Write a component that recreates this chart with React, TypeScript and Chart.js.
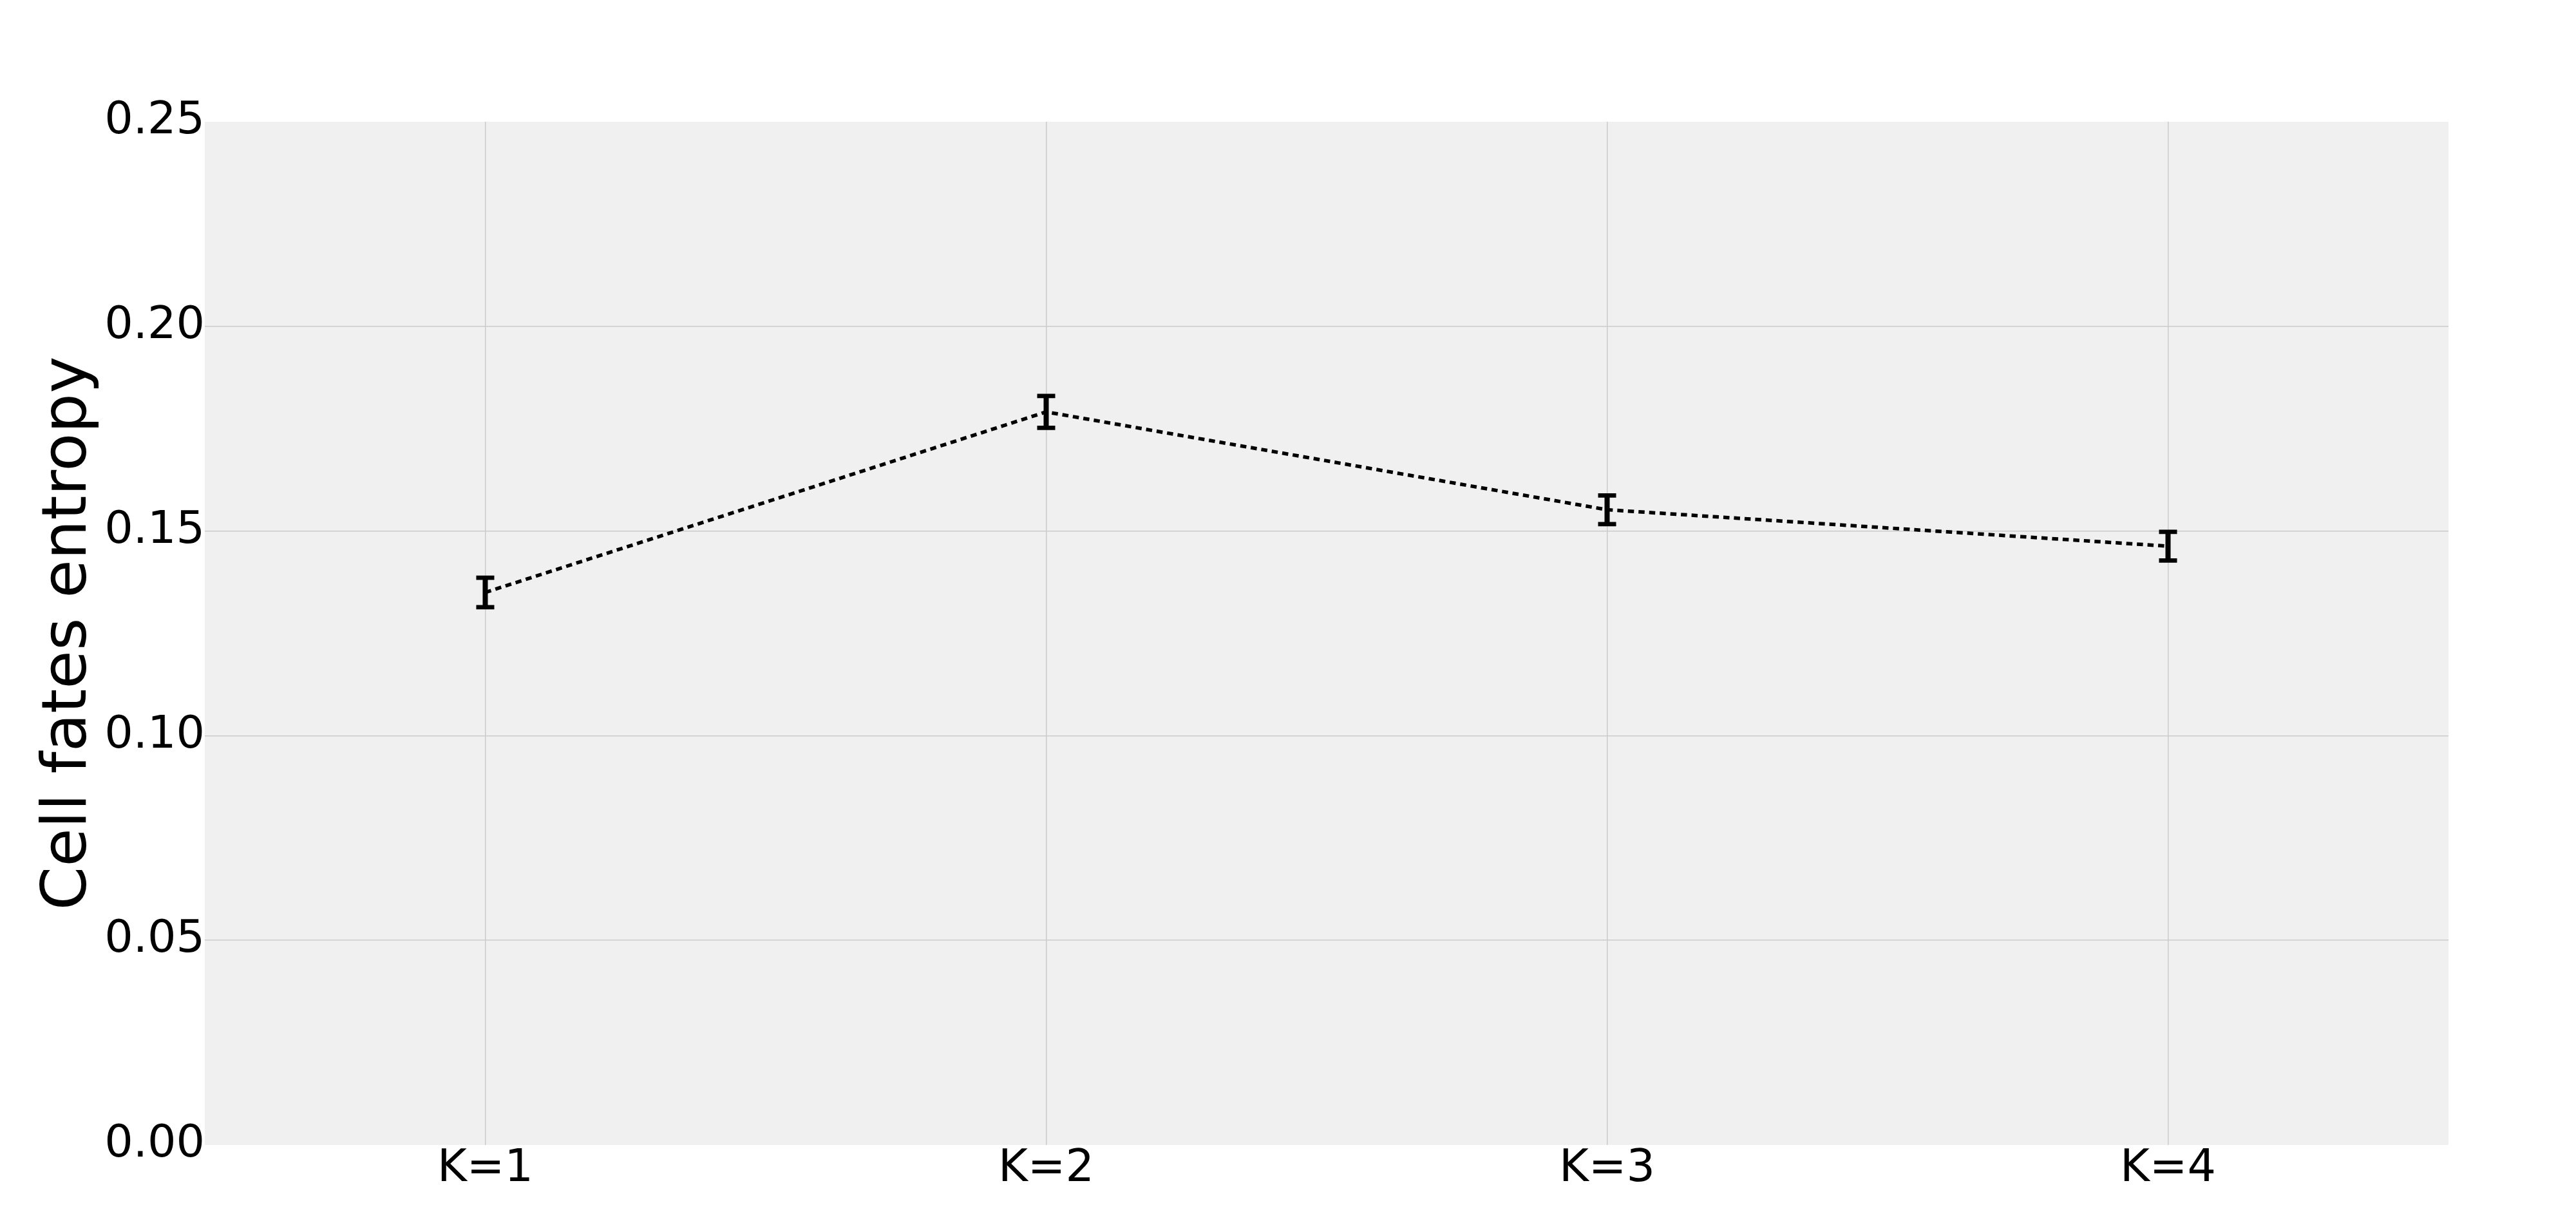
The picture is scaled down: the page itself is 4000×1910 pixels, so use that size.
import React, { useEffect, useRef } from "react";
import { Chart, registerables } from "chart.js";

Chart.register(...registerables);

const categories = ["K=1", "K=2", "K=3", "K=4"];
const entropyValues = [0.135, 0.1791, 0.1552, 0.1463];
const entropyErrors = [0.0036, 0.0039, 0.0035, 0.0035];
const yTicks = [0, 0.05, 0.1, 0.15, 0.2, 0.25];
const yAxisTitle = "Cell fates entropy";

const FONT = "'DejaVu Sans', 'Liberation Sans', sans-serif";

const plotBackground = {
  id: "plotBackground",
  beforeDraw(chart: any) {
    const { ctx, chartArea } = chart;
    ctx.save();
    ctx.fillStyle = "#f0f0f0";
    ctx.fillRect(chartArea.left, chartArea.top, chartArea.right - chartArea.left, chartArea.bottom - chartArea.top);
    ctx.restore();
  },
};

const errorBars = {
  id: "errorBars",
  afterDatasetsDraw(chart: any) {
    const { ctx } = chart;
    const xs = chart.scales.x;
    const ys = chart.scales.y;
    ctx.save();
    ctx.strokeStyle = "#000000";
    ctx.lineCap = "butt";
    const cap = 28;
    entropyValues.forEach((v, i) => {
      const e = entropyErrors[i];
      const x = xs.getPixelForValue(i);
      const yTop = ys.getPixelForValue(v + e);
      const yBot = ys.getPixelForValue(v - e);
      ctx.lineWidth = 8;
      ctx.beginPath();
      ctx.moveTo(x, yTop);
      ctx.lineTo(x, yBot);
      ctx.stroke();
      ctx.lineWidth = 6.7;
      ctx.beginPath();
      ctx.moveTo(x - cap / 2, yTop);
      ctx.lineTo(x + cap / 2, yTop);
      ctx.moveTo(x - cap / 2, yBot);
      ctx.lineTo(x + cap / 2, yBot);
      ctx.stroke();
    });
    ctx.restore();
  },
};

export default function App() {
  const canvasRef = useRef<HTMLCanvasElement | null>(null);

  useEffect(() => {
    const canvas = canvasRef.current;
    if (!canvas) return;
    const chart = new Chart(canvas, {
      type: "line",
      data: {
        labels: categories,
        datasets: [
          {
            data: entropyValues,
            borderColor: "#000000",
            borderWidth: 5.5,
            borderDash: [9.5, 7],
            borderCapStyle: "butt",
            pointRadius: 0,
            fill: false,
            tension: 0,
          },
        ],
      },
      options: {
        animation: false,
        responsive: false,
        devicePixelRatio: 1,
        layout: { padding: { left: 0, top: 189, right: 198, bottom: 0 } },
        plugins: {
          legend: { display: false },
          tooltip: { enabled: false },
        },
        scales: {
          x: {
            type: "category",
            offset: true,
            grid: {
              offset: false,
              color: "#cbcbcb",
              lineWidth: 1.5,
              drawTicks: false,
            },
            border: { display: false },
            ticks: {
              color: "#000000",
              padding: 3,
              font: { family: FONT, size: 70, lineHeight: 1 },
              maxRotation: 0,
              autoSkip: false,
            },
            afterFit(scale: any) {
              scale.height = 132;
            },
          },
          y: {
            min: 0,
            max: 0.25,
            afterBuildTicks(scale: any) {
              scale.ticks = yTicks.map((v) => ({ value: v }));
            },
            grid: {
              color: (ctx: any) => {
                const v = ctx.tick ? ctx.tick.value : null;
                if (v === 0 || v === 0.25) return "rgba(0,0,0,0)";
                return "#cbcbcb";
              },
              lineWidth: 1.5,
              drawTicks: false,
            },
            border: { display: false },
            ticks: {
              color: "#000000",
              padding: 0,
              font: { family: FONT, size: 70, lineHeight: 1 },
              callback: (v: any) => Number(v).toFixed(2),
            },
            title: {
              display: true,
              text: yAxisTitle,
              color: "#000000",
              font: { family: FONT, size: 97, lineHeight: 1.2 },
              padding: { top: 50, bottom: 0 },
            },
            afterFit(scale: any) {
              scale.width = 318;
            },
          },
        },
      },
      plugins: [plotBackground, errorBars],
    });
    return () => chart.destroy();
  }, []);

  return (
    <div style={{ position: "fixed", left: 0, top: 0, width: 4000, height: 1910, background: "#ffffff" }}>
      <canvas ref={canvasRef} width={4000} height={1910} style={{ width: 4000, height: 1910, display: "block" }} />
    </div>
  );
}
